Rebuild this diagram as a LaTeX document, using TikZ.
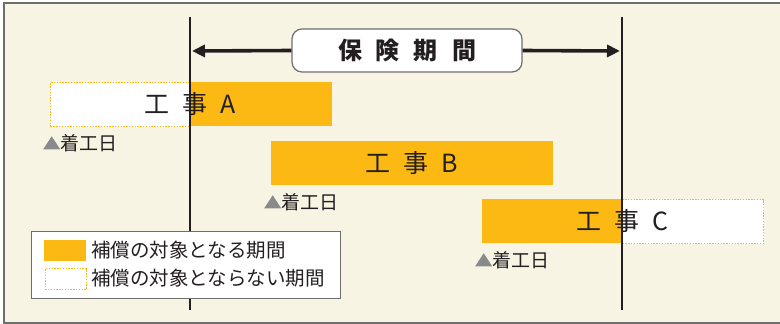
\documentclass[tikz,border=0pt]{standalone}
\usepackage{fontspec}
\setmainfont{Noto Sans CJK JP}
\usetikzlibrary{arrows.meta}
\definecolor{cream}{HTML}{F8F4E4}
\definecolor{gold}{HTML}{FDB913}
\definecolor{ink}{HTML}{231F20}
\definecolor{tri}{HTML}{8A8A8C}
\definecolor{frame}{HTML}{6E6E6E}
\tikzset{
  onbar/.style={draw=none, fill=gold, inner sep=0pt, anchor=north west},
  offbar/.style={draw=gold, line width=1.3pt, dash pattern=on 1.4pt off 1.4pt, fill=white, inner sep=0pt, anchor=north west},
  vline/.style={draw=ink, line width=2.6pt},
  arr/.style={draw=ink, line width=3.6pt, -{Triangle[length=13pt, width=12pt]}},
  lbl/.style={text=ink, font=\fontsize{25}{25}\selectfont, inner sep=0pt},
  start/.style={text=ink, font=\fontsize{19}{19}\selectfont, inner sep=0pt, anchor=west},
  legtext/.style={text=ink, font=\fontsize{19.5}{20}\selectfont, inner sep=0pt, anchor=west}
}
\newcommand{\tria}{{\color{tri}\raisebox{1pt}{\tikz\fill (0,0)--(17pt,0)--(8.5pt,13pt)--cycle;}}}
\begin{document}
\begin{tikzpicture}[x=1pt, y=-1pt]
\useasboundingbox (0,0) rectangle (780,324);
% background
\fill[cream] (4,3) rectangle (780,323);
\draw[frame, line width=1.2pt] (780,3) -- (4,3) -- (4,323) -- (780,323);
% bars
\node[offbar, minimum width=140pt, minimum height=44pt] (Aoff) at (50,82) {};
\node[onbar, minimum width=142pt, minimum height=44pt] (Aon) at (190,82) {};
\node[onbar, minimum width=282pt, minimum height=44pt] (Bon) at (271,141) {};
\node[onbar, minimum width=140pt, minimum height=44pt] (Con) at (482,199) {};
\node[offbar, minimum width=141pt, minimum height=44pt] (Coff) at (622,199) {};
% vertical lines
\coordinate (L1) at (190,17);
\coordinate (L2) at (190,310);
\coordinate (R1) at (622,17);
\coordinate (R2) at (622,310);
\draw[vline] (L1) -- (L2);
\draw[vline] (R1) -- (R2);
% title
\node[draw=frame, line width=1.2pt, fill=white, rounded corners=10pt, minimum width=230pt, minimum height=43pt, inner sep=0pt, text=ink,
  font=\fontsize{24}{24}\selectfont\bfseries] (title) at (407,50.5) {保\hspace{14pt}険\hspace{14pt}期\hspace{14pt}間};
\coordinate (TL) at (192,51);
\coordinate (TR) at (620,51);
\draw[arr] (title.west) -- (TL);
\draw[arr] (title.east) -- (TR);
% bar labels
\node[lbl] (Alab) at (190.5,104) {工\hspace{13pt}事\hspace{13pt}A};
\node[lbl] (Blab) at (412,163) {工\hspace{13pt}事\hspace{13pt}B};
\node[lbl] (Clab) at (622.5,221) {工\hspace{13pt}事\hspace{13pt}C};
% start markers
\node[start] (As) at (43,143) {\tria 着工日};
\node[start] (Bs) at (264,202) {\tria 着工日};
\node[start] (Cs) at (475,260) {\tria 着工日};
% legend
\node[draw=frame, line width=1.2pt, fill=white, inner sep=0pt, anchor=north west, minimum width=309pt, minimum height=67pt] (leg) at (31,231) {};
\node[onbar, minimum width=42pt, minimum height=21pt] (sw1) at (44,240) {};
\node[offbar, minimum width=41pt, minimum height=21pt] (sw2) at (44.5,268) {};
\node[legtext] (lt1) at (91,250.5) {補償の対象となる期間};
\node[legtext] (lt2) at (91,278.5) {補償の対象とならない期間};
\end{tikzpicture}
\end{document}
